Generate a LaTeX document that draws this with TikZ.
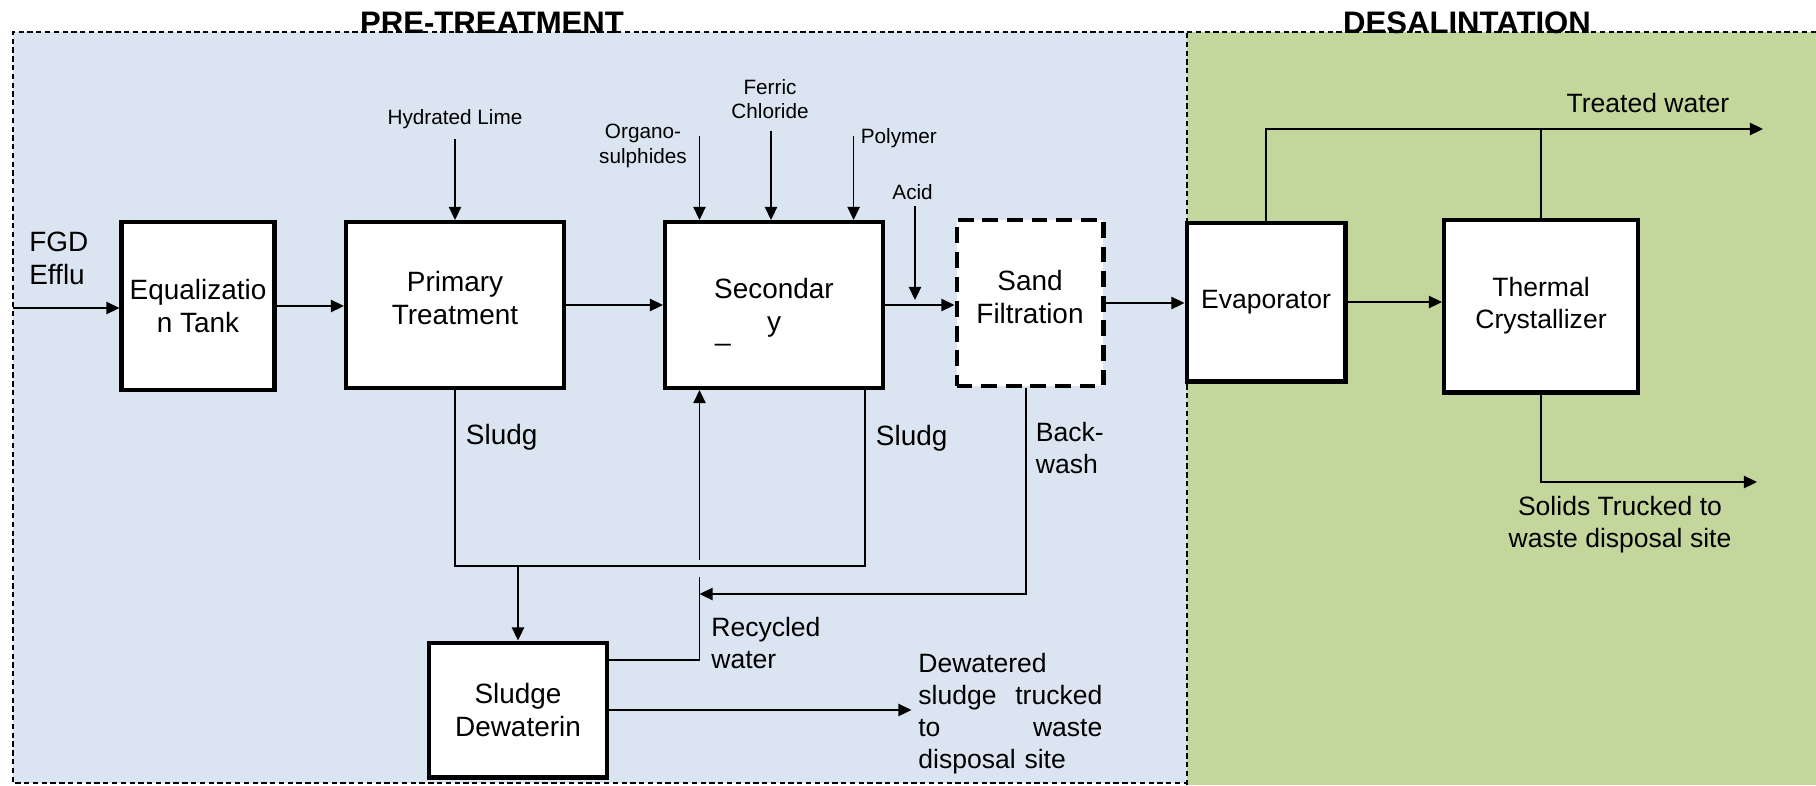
\documentclass[tikz,border=0pt]{standalone}
\usepackage{fontspec}
\setmainfont{Liberation Sans}
\usetikzlibrary{arrows.meta}

\definecolor{preblue}{HTML}{DBE5F1}
\definecolor{desgreen}{HTML}{C3D69B}

\begin{document}
\begin{tikzpicture}[x=0.02cm, y=-0.02cm,
        procbox/.style={draw, line width=2.3pt, fill=white, inner sep=0pt, align=center,
            font=\fontsize{15.9}{18.8}\selectfont},
        flow/.style={line width=1pt, -{Triangle[length=7.5pt,width=7pt]}},
        pipe/.style={line width=1pt},
        chem/.style={inner sep=0pt, align=center, font=\fontsize{11.8}{13.8}\selectfont},
        lbl/.style={inner sep=0pt, align=left, font=\fontsize{15.9}{18.8}\selectfont},
        remark/.style={inner sep=0pt, align=left, font=\fontsize{15.1}{18.2}\selectfont},
        stagetitle/.style={inner sep=0pt, anchor=base, font=\fontsize{17.7}{20}\selectfont\bfseries},
        zone/.style={dash pattern=on 3pt off 2pt, line width=0.8pt}]

        \useasboundingbox (0,0) rectangle (1816,785);

        % areas
        \fill[preblue] (13,32) rectangle (1187,783);
        \fill[desgreen] (1187,32) rectangle (1816,785);
        \draw[zone] (1187,785) -- (1187,32);
        \draw[zone] (1816,32) -- (13,32) -- (13,783) -- (1187,783);

        \node[stagetitle] (pretitle) at (492,33) {PRE-TREATMENT};
        \node[stagetitle] (destitle) at (1467,33) {DESALINTATION};

        % units
        \node[procbox, minimum width=3.06cm, minimum height=3.36cm] (eq) at (198,306) {Equalizatio\\n Tank};
        \node[procbox, text depth=8pt, minimum width=4.36cm, minimum height=3.32cm] (pri) at (455,305) {Primary\\Treatment};
        \node[procbox, text depth=0pt, minimum width=4.36cm, minimum height=3.32cm] (sec) at (774,305)
            {Secondar\\\llap{\raisebox{-5pt}{\_}\hspace{1.3em}}y};
        \node[procbox, text depth=7pt, dash pattern=on 9pt off 5pt, minimum width=2.94cm, minimum height=3.32cm] (sand) at (1030,303) {Sand\\Filtration};
        \node[procbox, font=\fontsize{15.1}{18.2}\selectfont, minimum width=3.18cm, minimum height=3.18cm] (evap) at (1266,302) {Evaporator};
        \node[procbox, font=\fontsize{15.1}{18.2}\selectfont, minimum width=3.88cm, minimum height=3.46cm] (therm) at (1541,306) {Thermal\\Crystallizer};
        \node[procbox, minimum width=3.56cm, minimum height=2.70cm] (dew) at (518,710) {Sludge\\Dewaterin};

        % chemicals
        \node[chem] (lime) at (455,119) {Hydrated Lime};
        \node[chem] (orga) at (643,146) {Organo-\\sulphides};
        \node[chem] (ferric) at (770,99) {Ferric\\Chloride};
        \node[chem, anchor=west] (poly) at (860.5,138) {Polymer};
        \node[chem] (acid) at (912.6,192) {Acid};

        % labels
        \node[lbl, anchor=west] (fgd) at (29,258) {FGD\\Efflu};
        \node[lbl, anchor=west] (sludgea) at (465.6,437) {Sludg};
        \node[lbl, anchor=west] (sludgeb) at (875.6,438) {Sludg};
        \node[remark, anchor=west] (bwash) at (1035.5,448) {Back-\\wash};
        \node[remark, anchor=west] (recyc) at (711,643) {Recycled\\water};
        \node[remark, anchor=west, text width=3.68cm] (dwtext) at (918,713.5)
            {Dewatered\\sludge\hfill trucked\\to\hfill waste\\disposal site};
        \node[remark, align=center] (twtext) at (1648,103) {Treated water};
        \node[remark, align=center] (soltext) at (1620,525) {Solids Trucked to\\waste disposal site};

        \coordinate (feed) at (13,308);
        \coordinate (limein) at (455,139);
        \coordinate (orgain) at (699.5,135.5);
        \coordinate (ferricin) at (771,131);
        \coordinate (polyin) at (853.6,135.5);
        \coordinate (acidin) at (915,206);
        \coordinate (acidout) at (915,300);
        \coordinate (tw) at (1763,129);
        \coordinate (sol) at (1757,482);
        \coordinate (slj) at (865,566);
        \coordinate (rc) at (699.5,660);
        \coordinate (rclow) at (699.5,577);
        \coordinate (rchigh) at (699.5,560);
        \coordinate (bw) at (1026,594);
        \coordinate (dwout) at (911.5,710);

        % #######################################

        \draw[flow] (feed) -- (feed -| eq.west);
        \draw[flow] (eq.east) -- (eq.east -| pri.west);
        \draw[flow] (pri.east) -- (sec.west);
        \draw[flow] (sec.east) -- (sec.east -| sand.west);
        \draw[flow] (sand.east) -- (sand.east -| evap.west);
        \draw[flow] (evap.east) -- (evap.east -| therm.west);

        \draw[flow] (limein) -- (limein |- pri.north);
        \draw[flow] (orgain) -- (orgain |- sec.north);
        \draw[flow] (ferricin) -- (ferricin |- sec.north);
        \draw[flow] (polyin) -- (polyin |- sec.north);
        \draw[flow] (acidin) -- (acidout);

        \draw[flow] (evap.north) |- (tw);
        \draw[pipe] (therm.north) -- (therm.north |- tw);
        \draw[flow] (therm.south) |- (sol);

        \draw[pipe] (pri.south) |- (slj) -- (slj |- sec.south);
        \draw[flow] (dew.north |- slj) -- (dew.north);
        \draw[pipe] (dew.east |- rc) -- (rc) -- (rclow);
        \draw[flow] (rchigh) -- (rchigh |- sec.south);
        \draw[flow] (bw |- sand.south) -- (bw) -- (bw -| rc);
        \draw[flow] (dew.east) -- (dwout);

    \end{tikzpicture}
\end{document}
